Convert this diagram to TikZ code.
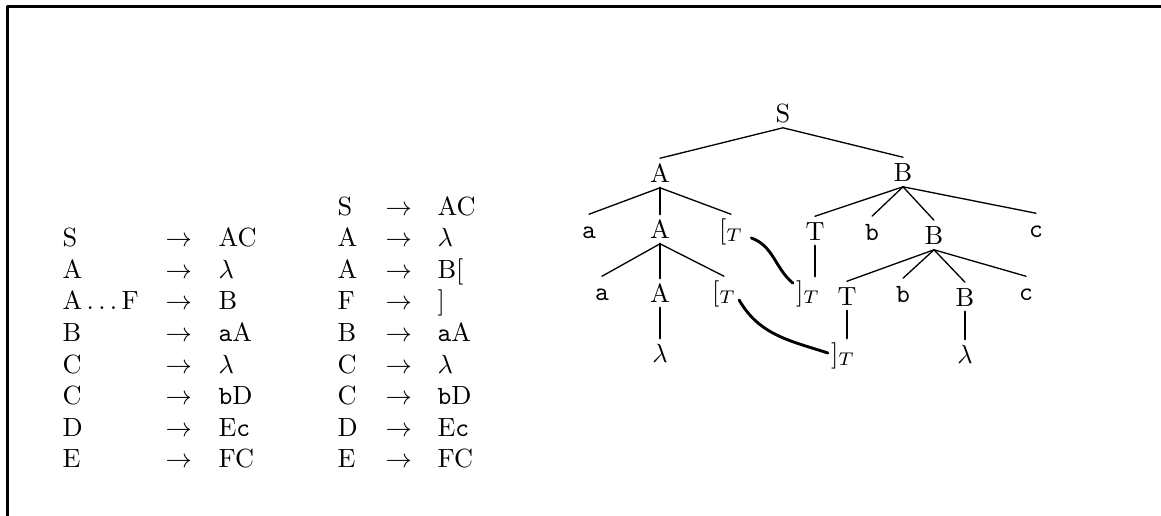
\documentclass[tikz,border=0pt]{standalone}

\tikzset{
  rule/.style={inner sep=0pt, anchor=base west},
  tn/.style={inner xsep=1pt, inner ysep=2pt, text height=6.83pt, text depth=0pt, anchor=base},
  br/.style={line width=0.5pt},
  stem/.style={line width=1pt},
  link/.style={line width=1.1pt},
}

\begin{document}
\begin{tikzpicture}[x=0.38pt, y=-0.38pt, line join=round, line cap=round]
	\useasboundingbox (0,0) rectangle (1161,516);
	\draw[line width=1.1pt] (7.5,516)--(7.5,6.5)--(1161,6.5);
	% the two grammars
	\foreach \l/\r [count=\i] in {S/AC, A/$\lambda$, $\mathrm{A}\ldots\mathrm{F}$/B, B/\texttt{a}A, C/$\lambda$, C/\texttt{b}D, D/E\texttt{c}, E/FC}{
		\node[rule] (ll\i) at (62,{215+31.6*\i}) {\l};
		\node[rule] (la\i) at (165,{215+31.6*\i}) {$\rightarrow$};
		\node[rule] (lr\i) at (218,{215+31.6*\i}) {\r};
	}
	\foreach \l/\r [count=\i] in {S/AC, A/$\lambda$, A/{B[}, F/], B/\texttt{a}A, C/$\lambda$, C/\texttt{b}D, D/E\texttt{c}, E/FC}{
		\node[rule] (rl\i) at (337,{215+31.6*(\i-1)}) {\l};
		\node[rule] (ra\i) at (385,{215+31.6*(\i-1)}) {$\rightarrow$};
		\node[rule] (rr\i) at (437,{215+31.6*(\i-1)}) {\r};
	}
	% derivation tree
	\node[tn] (S) at (783,122) {S};
	\node[tn] (A1) at (660,182) {A};
	\node[tn] (B1) at (903,181) {B};
	\node[tn] (a1) at (589,238) {\texttt{a}};
	\node[tn] (A2) at (660,238) {A};
	\node[tn] (lb1) at (731,238) {$[_T$};
	\node[tn] (T1) at (815,240) {T};
	\node[tn] (b1) at (872,240) {\texttt{b}};
	\node[tn] (B2) at (934,244) {B};
	\node[tn] (c1) at (1036,237) {\texttt{c}};
	\node[tn] (a2) at (602,300) {\texttt{a}};
	\node[tn] (A3) at (660,302) {A};
	\node[tn] (lb2) at (724,300) {$[_T$};
	\node[tn] (rb1) at (808,300) {$]_T$};
	\node[tn] (T2) at (847,305) {T};
	\node[tn] (b2) at (903,302) {\texttt{b}};
	\node[tn] (B3) at (965,306) {B};
	\node[tn] (c2) at (1026,300) {\texttt{c}};
	\node[tn] (l1) at (660,362) {$\lambda$};
	\node[tn] (rb2) at (843,362) {$]_T$};
	\node[tn] (l2) at (965,363) {$\lambda$};
	\draw[br] (S.south) -- (A1.north) (S.south) -- (B1.north);
	\foreach \c in {a1,lb1} \draw[br] (A1.south) -- (\c.north);
	\foreach \c in {a2,lb2} \draw[br] (A2.south) -- (\c.north);
	\foreach \c in {T1,b1,B2,c1} \draw[br] (B1.south) -- (\c.north);
	\foreach \c in {T2,b2,B3,c2} \draw[br] (B2.south) -- (\c.north);
	\foreach \p/\c in {A1/A2, A2/A3, A3/l1, T1/rb1, T2/rb2, B3/l2}
		\draw[stem] (\p.south) -- (\p.south |- \c.north);
	% bracket pairs
	\draw[link] ([xshift=2pt]lb1.base east) to[out=-20,in=140] ([yshift=3pt]rb1.west);
	\draw[link] (lb2.base east) to[out=-60,in=162] (rb2.west);
\end{tikzpicture}
\end{document}
